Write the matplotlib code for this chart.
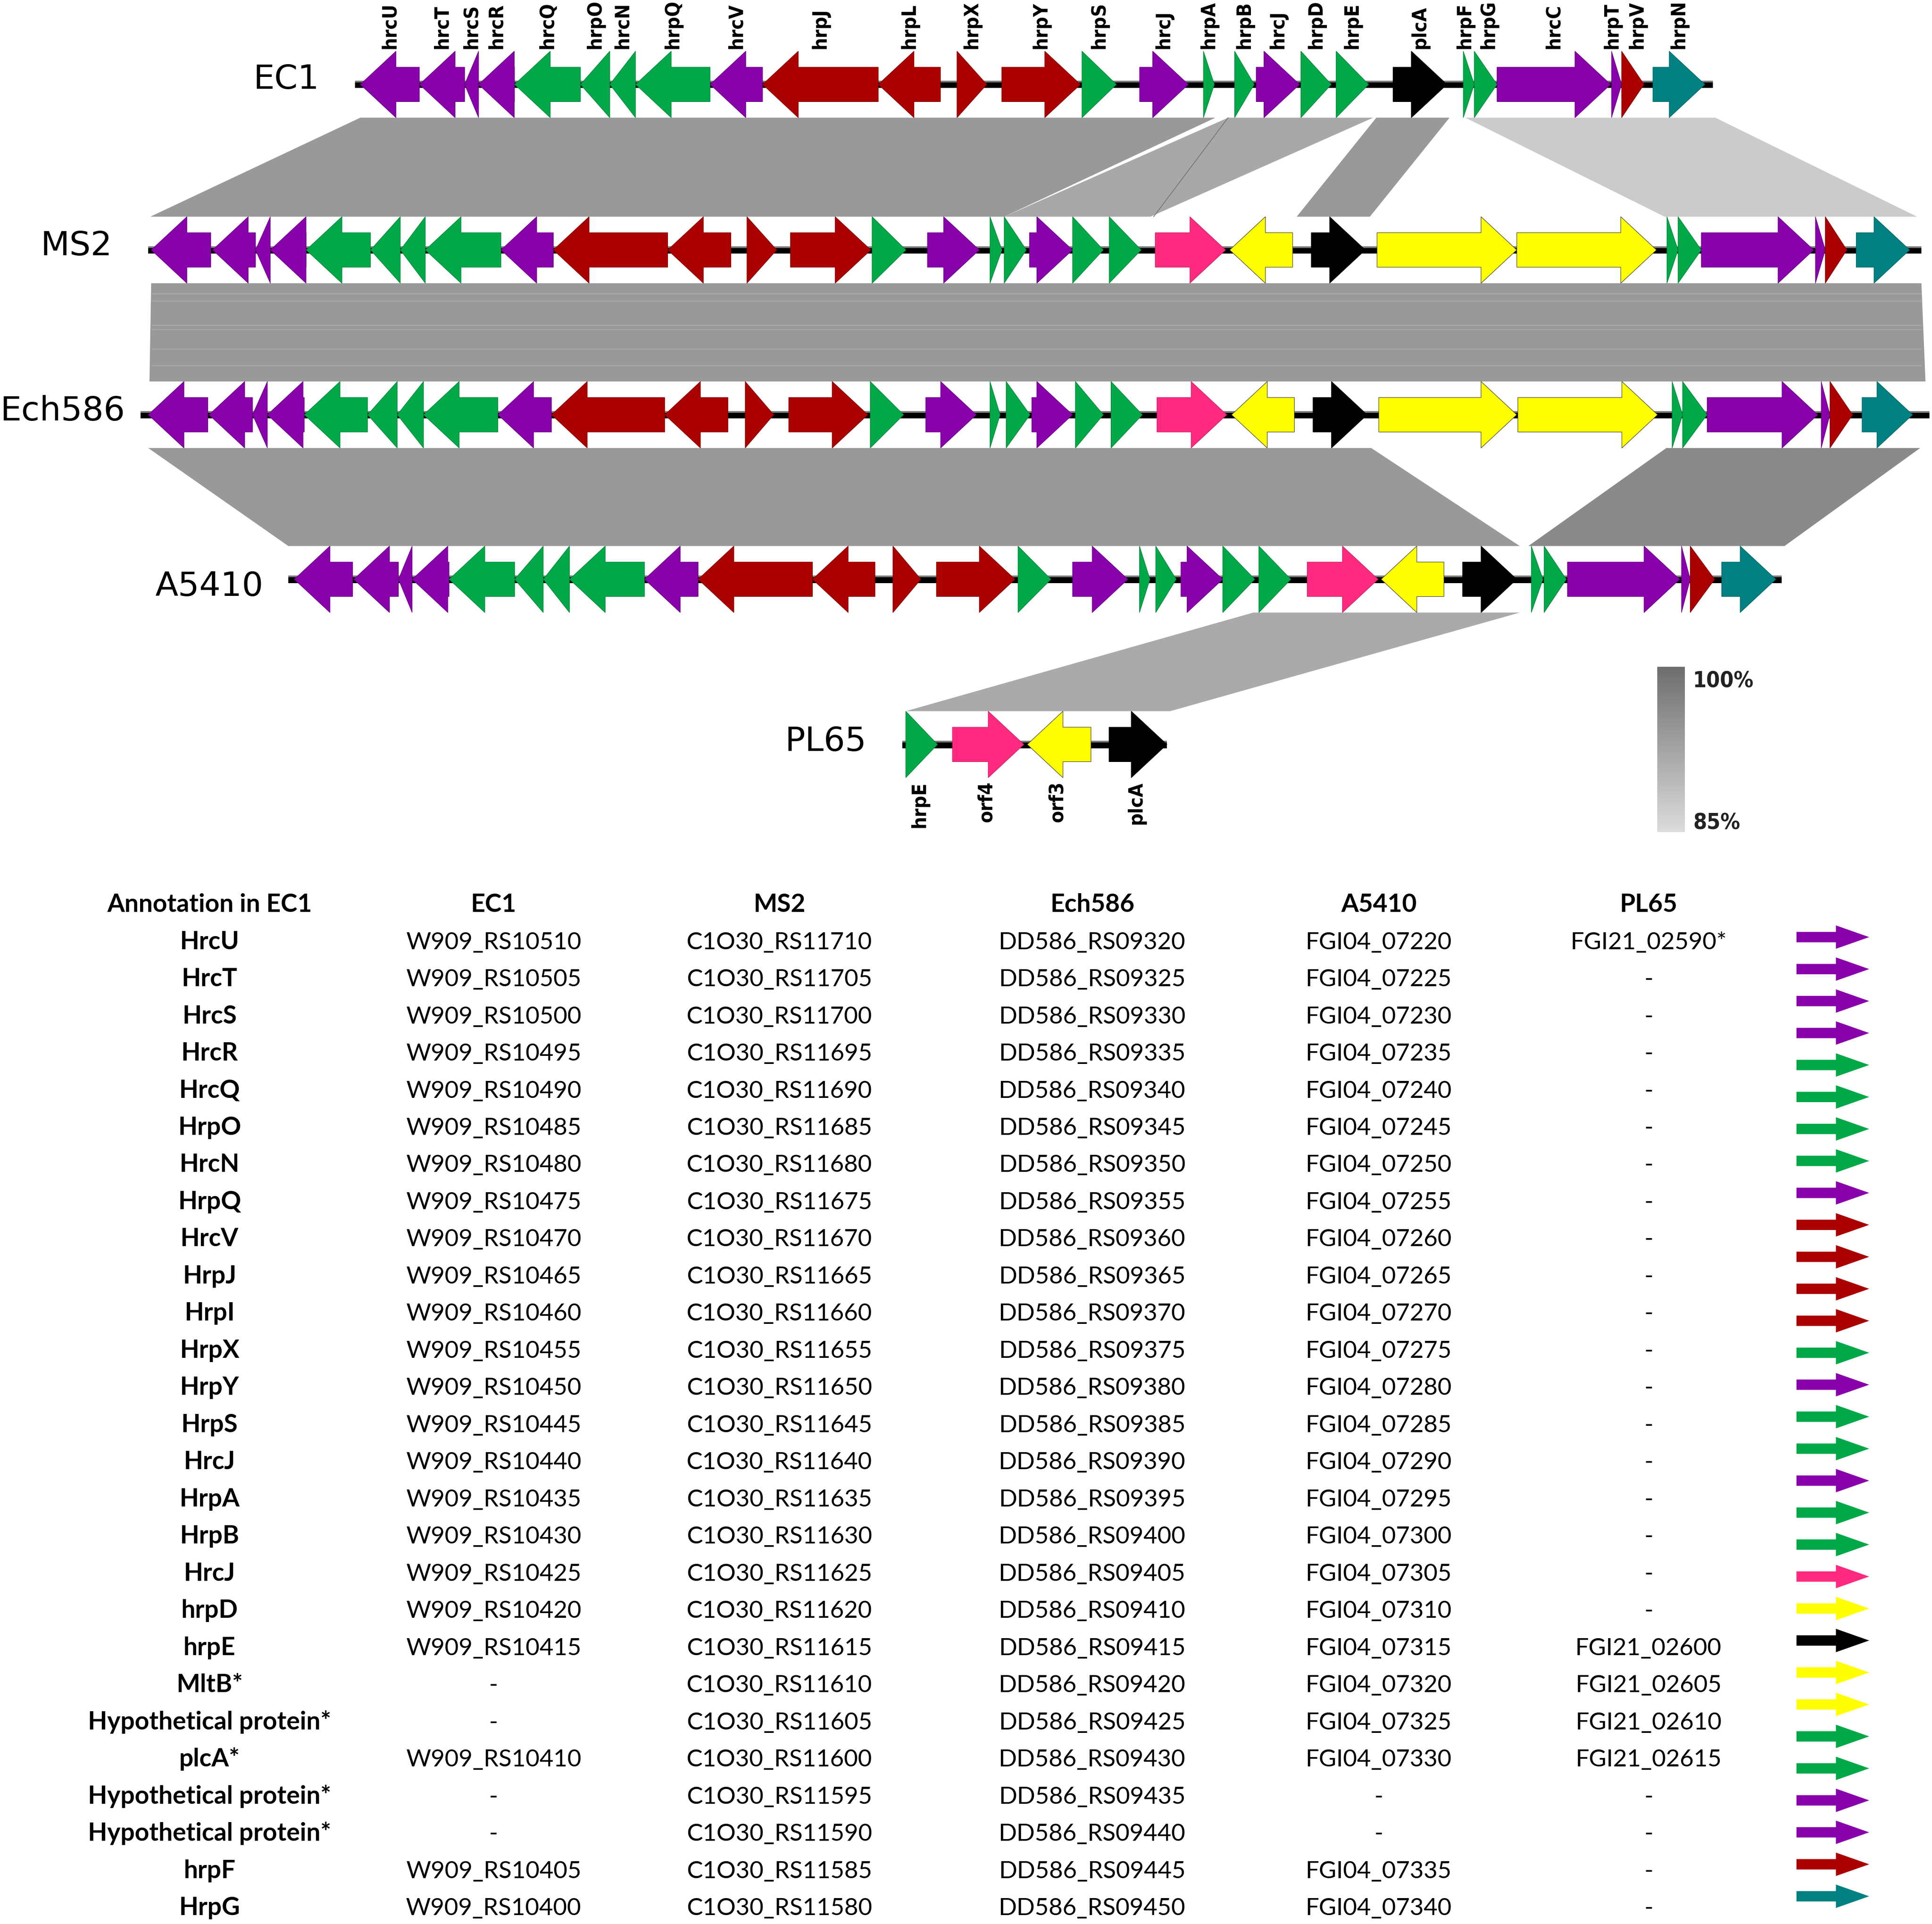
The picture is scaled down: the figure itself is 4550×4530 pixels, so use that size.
import os
import numpy as np
import matplotlib
matplotlib.use("Agg")
import matplotlib.pyplot as plt
from matplotlib.patches import Polygon, Rectangle
from matplotlib.font_manager import FontProperties, fontManager
from matplotlib.textpath import TextPath
from matplotlib.colors import LinearSegmentedColormap

# ============================ DATA ============================
# Gene coordinates are given in track units (common scale for all genomes).
# strand: 1 = forward (points right), -1 = reverse (points left)
# class: P apparatus (purple), G (green), R (red), K (pink), Y (yellow), B (black), T (teal)

EC1_names = ['hrcU', 'hrcT', 'hrcS', 'hrcR', 'hrcQ', 'hrpO', 'hrcN', 'hrpQ', 'hrcV',
             'hrpJ', 'hrpL', 'hrpX', 'hrpY', 'hrpS', 'hrcJ', 'hrpA', 'hrpB', 'hrcJ',
             'hrpD', 'hrpE', 'plcA', 'hrpF', 'hrpG', 'hrcC', 'hrpT', 'hrpV', 'hrpN']
EC1_start = [292.4, 340.4, 377.1, 388.4, 417.6, 471.1, 494.9, 515.8, 576.3, 618.9,
             712.8, 776.7, 813.0, 878.1, 924.9, 976.7, 1002.0, 1019.5, 1055.8, 1084.4,
             1130.6, 1187.6, 1196.5, 1215.0, 1307.9, 1316.1, 1341.5]
EC1_end = [340.4, 377.1, 388.4, 417.6, 471.1, 494.9, 515.8, 576.3, 618.9, 712.8,
           763.3, 800.9, 876.9, 906.1, 964.5, 985.6, 1017.9, 1054.8, 1080.5, 1110.8,
           1174.4, 1196.5, 1215.0, 1307.2, 1316.1, 1334.3, 1383.7]
EC1_strand = [-1, -1, -1, -1, -1, -1, -1, -1, -1, -1, -1,
              1, 1, 1, 1, 1, 1, 1, 1, 1, 1, 1, 1, 1, 1, 1, 1]
EC1_class = ['P', 'P', 'P', 'P', 'G', 'G', 'G', 'G', 'P', 'R', 'R', 'R', 'R', 'G',
             'P', 'G', 'G', 'P', 'G', 'G', 'B', 'G', 'G', 'P', 'P', 'R', 'T']

MS2_start = [122.7, 172.5, 207.4, 219.4, 248.5, 300.7, 324.9, 345.2, 406.6, 449.1,
             541.9, 606.2, 641.5, 707.8, 752.7, 803.5, 815.0, 835.5, 870.5, 900.2,
             937.6, 998.0, 1064.2, 1117.6, 1231.0, 1352.9, 1361.9, 1380.8, 1473.4,
             1481.4, 1506.5]
MS2_end = [171.1, 207.4, 219.4, 248.5, 300.7, 324.9, 345.2, 406.6, 449.1, 541.9,
           593.2, 630.4, 706.8, 735.3, 794.8, 813.2, 833.0, 870.5, 895.5, 926.2,
           994.7, 1049.1, 1108.1, 1231.0, 1344.4, 1361.9, 1380.8, 1472.0, 1481.4,
           1498.9, 1549.9]
MS2_strand = [-1, -1, -1, -1, -1, -1, -1, -1, -1, -1, -1,
              1, 1, 1, 1, 1, 1, 1, 1, 1, 1, -1, 1, 1, 1, 1, 1, 1, 1, 1, 1]
MS2_class = ['P', 'P', 'P', 'P', 'G', 'G', 'G', 'G', 'P', 'R', 'R', 'R', 'R', 'G',
             'P', 'G', 'G', 'P', 'G', 'G', 'K', 'Y', 'B', 'Y', 'Y', 'G', 'G', 'P',
             'P', 'R', 'T']

Ech586_start = [120.3, 169.6, 205.0, 217.0, 247.0, 298.3, 322.4, 343.7, 404.1, 447.6,
                539.5, 604.8, 640.1, 706.3, 751.3, 803.5, 816.6, 837.4, 872.8, 901.7,
                939.0, 999.5, 1065.6, 1119.0, 1231.9, 1357.1, 1365.6, 1385.5, 1478.1,
                1485.2, 1511.2]
Ech586_end = [168.7, 205.0, 217.0, 247.0, 298.3, 322.4, 343.7, 404.1, 447.6, 539.5,
              590.8, 628.0, 704.4, 733.4, 792.4, 811.7, 836.0, 870.5, 895.5, 927.2,
              995.7, 1050.5, 1109.6, 1231.0, 1345.3, 1365.6, 1385.5, 1475.3, 1485.2,
              1503.6, 1552.3]
Ech586_strand = [-1, -1, -1, -1, -1, -1, -1, -1, -1, -1, -1,
                 1, 1, 1, 1, 1, 1, 1, 1, 1, 1, -1, 1, 1, 1, 1, 1, 1, 1, 1, 1]
Ech586_class = ['P', 'P', 'P', 'P', 'G', 'G', 'G', 'G', 'P', 'R', 'R', 'R', 'R', 'G',
                'P', 'G', 'G', 'P', 'G', 'G', 'K', 'Y', 'B', 'Y', 'Y', 'G', 'G', 'P',
                'P', 'R', 'T']

A5410_start = [238.8, 287.1, 323.4, 334.5, 364.5, 417.7, 440.9, 462.2, 523.1, 566.6,
               659.4, 724.7, 760.0, 826.2, 870.5, 924.8, 938.0, 958.4, 992.4, 1021.7,
               1060.9, 1120.9, 1187.0, 1242.8, 1253.2, 1272.1, 1364.7, 1371.8, 1397.3]
A5410_end = [286.2, 323.4, 334.5, 364.5, 417.7, 440.9, 462.2, 523.1, 566.6, 659.4,
             710.2, 747.4, 823.8, 853.0, 915.4, 933.3, 954.6, 992.4, 1018.4, 1047.7,
             1118.5, 1171.9, 1231.0, 1252.3, 1271.2, 1363.3, 1371.8, 1391.6, 1441.3]
A5410_strand = [-1, -1, -1, -1, -1, -1, -1, -1, -1, -1, -1,
                1, 1, 1, 1, 1, 1, 1, 1, 1, 1, -1, 1, 1, 1, 1, 1, 1, 1]
A5410_class = ['P', 'P', 'P', 'P', 'G', 'G', 'G', 'G', 'P', 'R', 'R', 'R', 'R', 'G',
               'P', 'G', 'G', 'P', 'G', 'G', 'K', 'Y', 'B', 'G', 'G', 'P', 'P', 'R', 'T']

PL65_names = ['hrpE', 'orf4', 'orf3', 'plcA']
PL65_start = [735.1, 773.0, 833.7, 900.1]
PL65_end = [760.9, 831.0, 885.4, 947.1]
PL65_strand = [1, 1, -1, 1]
PL65_class = ['G', 'K', 'Y', 'B']

genome_order = ['EC1', 'MS2', 'Ech586', 'A5410', 'PL65']
backbone_start = [288.2, 120.3, 114.0, 234.0, 732.4]
backbone_end = [1390.3, 1559.4, 1566.0, 1446.0, 947.1]

# BLAST comparisons: (upper genome, lower genome, upper start, upper end,
#                     lower start, lower end, identity %)
comp_upper = ['EC1', 'EC1', 'EC1', 'EC1', 'MS2', 'Ech586', 'Ech586', 'A5410']
comp_lower = ['MS2', 'MS2', 'MS2', 'MS2', 'Ech586', 'A5410', 'A5410', 'PL65']
comp_up_start = [292.4, 996.7, 1117.0, 1189.3, 122.7, 120.3, 1352.4, 1017.2]
comp_up_end = [986.4, 1114.4, 1176.4, 1392.2, 1559.4, 1112.9, 1558.4, 1233.4]
comp_lo_start = [122.0, 815.0, 1052.4, 1351.0, 121.3, 234.0, 1240.4, 735.1]
comp_lo_end = [815.0, 933.7, 1111.8, 1555.9, 1562.7, 1233.4, 1448.3, 949.7]
comp_identity = [94.1, 92.1, 94.1, 87.3, 94.1, 94.1, 96.2, 91.8]

legend_levels = [100, 85]

# Table
table_header = ['Annotation in EC1', 'EC1', 'MS2', 'Ech586', 'A5410', 'PL65']
annotation = ['HrcU', 'HrcT', 'HrcS', 'HrcR', 'HrcQ', 'HrpO', 'HrcN', 'HrpQ', 'HrcV',
              'HrpJ', 'HrpI', 'HrpX', 'HrpY', 'HrpS', 'HrcJ', 'HrpA', 'HrpB', 'HrcJ',
              'hrpD', 'hrpE', 'MltB*', 'Hypothetical protein*', 'plcA*',
              'Hypothetical protein*', 'Hypothetical protein*', 'hrpF', 'HrpG']
tab_EC1 = ['W909_RS10510', 'W909_RS10505', 'W909_RS10500', 'W909_RS10495', 'W909_RS10490',
           'W909_RS10485', 'W909_RS10480', 'W909_RS10475', 'W909_RS10470', 'W909_RS10465',
           'W909_RS10460', 'W909_RS10455', 'W909_RS10450', 'W909_RS10445', 'W909_RS10440',
           'W909_RS10435', 'W909_RS10430', 'W909_RS10425', 'W909_RS10420', 'W909_RS10415',
           '-', '-', 'W909_RS10410', '-', '-', 'W909_RS10405', 'W909_RS10400']
tab_MS2 = ['C1O30_RS11710', 'C1O30_RS11705', 'C1O30_RS11700', 'C1O30_RS11695',
           'C1O30_RS11690', 'C1O30_RS11685', 'C1O30_RS11680', 'C1O30_RS11675',
           'C1O30_RS11670', 'C1O30_RS11665', 'C1O30_RS11660', 'C1O30_RS11655',
           'C1O30_RS11650', 'C1O30_RS11645', 'C1O30_RS11640', 'C1O30_RS11635',
           'C1O30_RS11630', 'C1O30_RS11625', 'C1O30_RS11620', 'C1O30_RS11615',
           'C1O30_RS11610', 'C1O30_RS11605', 'C1O30_RS11600', 'C1O30_RS11595',
           'C1O30_RS11590', 'C1O30_RS11585', 'C1O30_RS11580']
tab_Ech586 = ['DD586_RS09320', 'DD586_RS09325', 'DD586_RS09330', 'DD586_RS09335',
              'DD586_RS09340', 'DD586_RS09345', 'DD586_RS09350', 'DD586_RS09355',
              'DD586_RS09360', 'DD586_RS09365', 'DD586_RS09370', 'DD586_RS09375',
              'DD586_RS09380', 'DD586_RS09385', 'DD586_RS09390', 'DD586_RS09395',
              'DD586_RS09400', 'DD586_RS09405', 'DD586_RS09410', 'DD586_RS09415',
              'DD586_RS09420', 'DD586_RS09425', 'DD586_RS09430', 'DD586_RS09435',
              'DD586_RS09440', 'DD586_RS09445', 'DD586_RS09450']
tab_A5410 = ['FGI04_07220', 'FGI04_07225', 'FGI04_07230', 'FGI04_07235', 'FGI04_07240',
             'FGI04_07245', 'FGI04_07250', 'FGI04_07255', 'FGI04_07260', 'FGI04_07265',
             'FGI04_07270', 'FGI04_07275', 'FGI04_07280', 'FGI04_07285', 'FGI04_07290',
             'FGI04_07295', 'FGI04_07300', 'FGI04_07305', 'FGI04_07310', 'FGI04_07315',
             'FGI04_07320', 'FGI04_07325', 'FGI04_07330', '-', '-', 'FGI04_07335',
             'FGI04_07340']
tab_PL65 = ['FGI21_02590*', '-', '-', '-', '-', '-', '-', '-', '-', '-', '-', '-', '-',
            '-', '-', '-', '-', '-', '-', 'FGI21_02600', 'FGI21_02605', 'FGI21_02610',
            'FGI21_02615', '-', '-', '-', '-']

# ============================ STYLE / LAYOUT ============================
class_color = {'P': '#8800aa', 'G': '#00a847', 'R': '#aa0000', 'K': '#ff2a7f',
               'Y': '#ffff00', 'B': '#000000', 'T': '#008080'}

genomes = {
    'EC1': (EC1_start, EC1_end, EC1_strand, EC1_class),
    'MS2': (MS2_start, MS2_end, MS2_strand, MS2_class),
    'Ech586': (Ech586_start, Ech586_end, Ech586_strand, Ech586_class),
    'A5410': (A5410_start, A5410_end, A5410_strand, A5410_class),
    'PL65': (PL65_start, PL65_end, PL65_strand, PL65_class),
}
row_y = {'EC1': 68.5, 'MS2': 202.8, 'Ech586': 336.5, 'A5410': 470.0, 'PL65': 604.0}
label_pos = {'EC1': (259.0, 64.5), 'MS2': (91.0, 199.5), 'Ech586': (101.5, 333.5),
             'A5410': (213.6, 476.0), 'PL65': (703.0, 601.5)}
# small sideways nudges for crowded gene names (index -> units)
label_nudge = {21: -3.0, 22: 2.5, 24: -3.5, 25: 3.5}

HH, BH, HEAD = 27.0, 14.0, 29.0      # arrow half height, body half height, head length
XMAX, YMAX = 1568.0, 1561.0
PX = 4550.0 / XMAX                   # output pixels per unit

GRAY_HI, GRAY_LO = 110.0, 220.0      # gray value at 100% and at 85%


def identity_gray(p):
    v = GRAY_LO - (p - 85.0) / 15.0 * (GRAY_LO - GRAY_HI)
    v = max(0.0, min(255.0, v)) / 255.0
    return (v, v, v)


def darker(c, f=0.7):
    r, g, b = matplotlib.colors.to_rgb(c)
    return (r * f, g * f, b * f)


def pick_condensed_bold():
    prefs = ['LiberationSansNarrow-Bold', 'DejaVuSansCondensed-Bold',
             'NotoSans-CondensedBold', 'RobotoCondensed-Bold', 'OpenSans-CondensedBold',
             'OpenSansCondensed-Bold', 'Roboto_Condensed-Bold']
    files = {}
    for f in fontManager.ttflist:
        files[os.path.splitext(os.path.basename(f.fname))[0].lower()] = f.fname
    for p in prefs:
        if p.lower() in files:
            return FontProperties(fname=files[p.lower()])
    return FontProperties(family='DejaVu Sans', weight='bold')


def fit_pt(text, prop, target_units):
    w = TextPath((0, 0), text, size=100, prop=prop).get_extents().width
    return target_units * PX * 100.0 / w * 0.72


fp_gene = pick_condensed_bold()
fp_genome = FontProperties(family='DejaVu Sans')
fp_tab = FontProperties(family=['Lato', 'DejaVu Sans'])
fp_tab_b = FontProperties(family=['Lato', 'DejaVu Sans'], weight='bold')

size_gene = fit_pt('hrcU', fp_gene, 35.0)
size_genome = fit_pt('Ech586', fp_genome, 97.0)
size_leg = fit_pt('100%', fp_gene, 47.0)
size_tab = fit_pt('W909_RS10510', fp_tab, 141.5)
size_tab_b = fit_pt('Annotation in EC1', fp_tab_b, 165.0)

fig = plt.figure(figsize=(45.5, 45.3), dpi=100)
ax = fig.add_axes([0, 0, 1, 1])
ax.set_xlim(0, XMAX)
ax.set_ylim(YMAX, 0)
ax.axis('off')


def gene_points(s, e, strand, y):
    L = e - s
    h = min(HEAD, L)
    if strand > 0:
        b = e - h
        if h >= L:
            return [(s, y - HH), (e, y), (s, y + HH)]
        return [(s, y - BH), (b, y - BH), (b, y - HH), (e, y), (b, y + HH), (b, y + BH), (s, y + BH)]
    b = s + h
    if h >= L:
        return [(e, y - HH), (s, y), (e, y + HH)]
    return [(e, y - BH), (b, y - BH), (b, y - HH), (s, y), (b, y + HH), (b, y + BH), (e, y + BH)]


# ---- comparison bands ----
for gu, gl, us, ue, ls, le, pid in zip(comp_upper, comp_lower, comp_up_start, comp_up_end,
                                       comp_lo_start, comp_lo_end, comp_identity):
    yt = row_y[gu] + HH
    yb = row_y[gl] - HH
    ax.add_patch(Polygon([(us, yt), (ue, yt), (le, yb), (ls, yb)], closed=True,
                         facecolor=identity_gray(pid), edgecolor='none', zorder=1))
# overlap edge inside the second EC1/MS2 band
ax.plot([comp_up_start[1], 936.3], [row_y['EC1'] + HH, row_y['MS2'] - HH],
        color='#707070', lw=1.2, zorder=1.5)
# faint stripes of the MS2/Ech586 band (several stacked hits)
yt, yb = row_y['MS2'] + HH, row_y['Ech586'] - HH
for fr in [0.11, 0.18, 0.43, 0.47, 0.67, 0.84]:
    yy = yt + fr * (yb - yt)
    ax.plot([comp_up_start[4] + 1, comp_up_end[4]], [yy, yy], color='#adadad', lw=1.3, zorder=1.2)

# ---- genome tracks ----
for gi, g in enumerate(genome_order):
    y = row_y[g]
    bs, be = backbone_start[gi], backbone_end[gi]
    ax.add_patch(Rectangle((bs, y - 3.0), be - bs, 6.0, facecolor='black', edgecolor='none', zorder=2))
    ax.add_patch(Rectangle((bs, y - 3.0), be - bs, 1.3, facecolor='#7a7a7a', edgecolor='none', zorder=2.1))
    st, en, sd, cl = genomes[g]
    for s, e, d, c in zip(st, en, sd, cl):
        fc = class_color[c]
        ec = '#303030' if c == 'Y' else darker(fc, 0.75)
        ax.add_patch(Polygon(gene_points(s, e, d, y), closed=True, facecolor=fc,
                             edgecolor=ec, lw=0.8, zorder=3))
    lx, ly = label_pos[g]
    ax.text(lx, ly, g, ha='right', va='center', fontproperties=fp_genome,
            fontsize=size_genome, color='black', zorder=4)

# gene names of EC1 (above) and PL65 (below)
for i, (name, s, e) in enumerate(zip(EC1_names, EC1_start, EC1_end)):
    ax.text((s + e) / 2.0 + label_nudge.get(i, 0.0), 39.5, name, rotation=90,
            ha='center', va='bottom', fontproperties=fp_gene, fontsize=size_gene, zorder=4)
for name, s, e in zip(PL65_names, PL65_start, PL65_end):
    ax.text((s + e) / 2.0 - 1.5, 634.0, name, rotation=90, ha='center', va='top',
            fontproperties=fp_gene, fontsize=size_gene, zorder=4)

# ---- identity legend ----
cmap = LinearSegmentedColormap.from_list('ident', [identity_gray(legend_levels[0]),
                                                   identity_gray(legend_levels[1])])
grad = np.linspace(0, 1, 256).reshape(-1, 1)
ax.imshow(grad, cmap=cmap, extent=[1345.2, 1367.4, 675.0, 541.0], origin='upper',
          aspect='auto', interpolation='bilinear', zorder=3)
ax.text(1374.0, 553.0, f'{legend_levels[0]}%', ha='left', va='center',
        fontproperties=fp_gene, fontsize=size_leg, color='#222222', zorder=4)
ax.text(1374.0, 668.0, f'{legend_levels[1]}%', ha='left', va='center',
        fontproperties=fp_gene, fontsize=size_leg, color='#222222', zorder=4)

# ---- table ----
col_x = [170.0, 400.5, 632.5, 886.5, 1119.0, 1338.0]
HEADER_Y = 740.0
ROW0, ROWSTEP = 770.0, 30.15
for cx, h in zip(col_x, table_header):
    ax.text(cx, HEADER_Y, h, ha='center', va='baseline', fontproperties=fp_tab_b,
            fontsize=size_tab_b, color='black')
columns = [annotation, tab_EC1, tab_MS2, tab_Ech586, tab_A5410, tab_PL65]
for ci, (cx, col) in enumerate(zip(col_x, columns)):
    for ri, val in enumerate(col):
        ax.text(cx, ROW0 + ri * ROWSTEP, val, ha='center', va='baseline',
                fontproperties=fp_tab_b if ci == 0 else fp_tab,
                fontsize=size_tab_b if ci == 0 else size_tab, color='black')

# colour key arrows (one per MS2 gene, in order)
n_key = len(MS2_class)
key_y = np.linspace(760.3, 1538.5, n_key)
KS, KB, KT = 1458.0, 1490.0, 1517.0
for yk, c in zip(key_y, MS2_class):
    pts = [(KS, yk - 4.2), (KB, yk - 4.2), (KB, yk - 9.5), (KT, yk),
           (KB, yk + 9.5), (KB, yk + 4.2), (KS, yk + 4.2)]
    ax.add_patch(Polygon(pts, closed=True, facecolor=class_color[c], edgecolor='none', zorder=3))

ax.set_xlim(0, XMAX)
ax.set_ylim(YMAX, 0)
fig.savefig('out.png', dpi=100, facecolor='white')
